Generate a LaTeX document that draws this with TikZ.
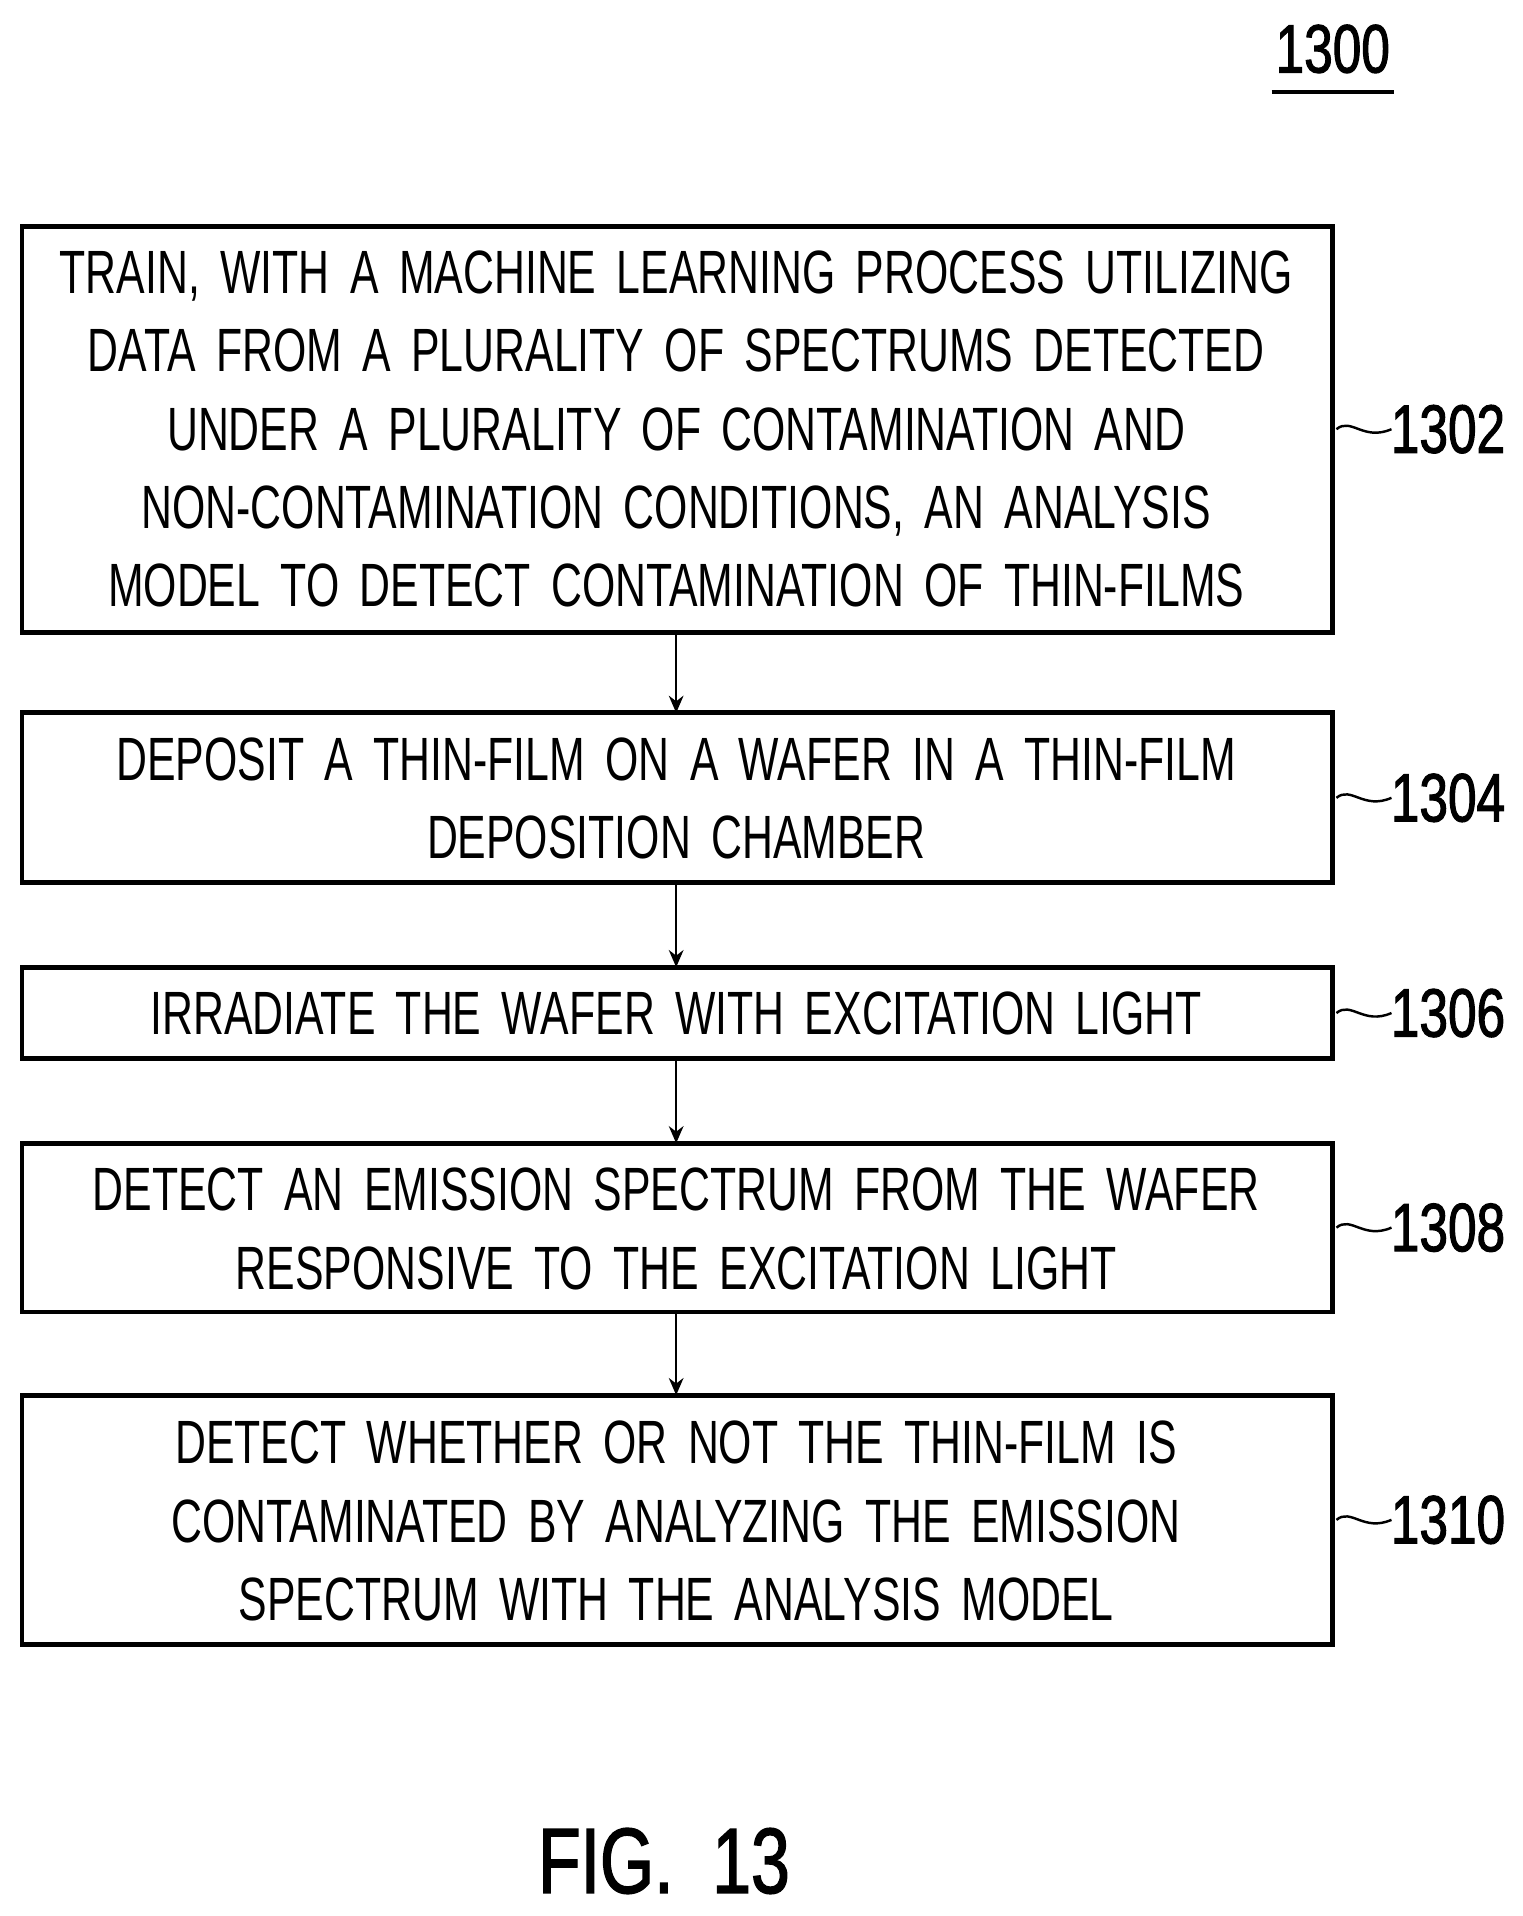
\documentclass[tikz,border=0pt]{standalone}
\usepackage{fontspec}
\usetikzlibrary{arrows.meta}
\setmainfont{Liberation Sans}
\newfontfamily\cond[FakeStretch=0.7,WordSpace=1.3]{Liberation Sans}
\newfontfamily\condb[FakeStretch=0.75,FakeBold=1.5]{Liberation Sans}
\begin{document}
\begin{tikzpicture}[x=1pt,y=-1pt,
 txt/.style={font=\cond\fontsize{50}{64}\selectfont,align=center,text width=1070pt},
 lab/.style={font=\condb\fontsize{56}{60}\selectfont,anchor=west},
 arr/.style={-{Stealth[length=14pt,width=12pt]},line width=2pt}]
\useasboundingbox (0,0) rectangle (1245,1567);
\foreach \n/\t/\b in {1302/185/517,1304/583/722,1306/791/866,1308/935/1073,1310/1141/1345}{
  \draw[line width=4pt] (18,\t) rectangle (1090,\b);
  \coordinate (b\n) at (553,\b);
  \coordinate (t\n) at (553,\t);
  \pgfmathsetmacro\m{(\t+\b)/2}
  \draw[line width=2pt] (1093,\m) .. controls (1105,\m-10) and (1115,\m+10) .. (1138,\m);
  \node[lab] (l\n) at (1134,\m) {\n};
}
\node[txt] (n1302) at (553,351) {TRAIN, WITH A MACHINE LEARNING PROCESS UTILIZING\\DATA FROM A PLURALITY OF SPECTRUMS DETECTED\\UNDER A PLURALITY OF CONTAMINATION AND\\NON-CONTAMINATION CONDITIONS, AN ANALYSIS\\MODEL TO DETECT CONTAMINATION OF THIN-FILMS};
\node[txt] (n1304) at (553,653) {DEPOSIT A THIN-FILM ON A WAFER IN A THIN-FILM\\DEPOSITION CHAMBER};
\node[txt] (n1306) at (553,829) {IRRADIATE THE WAFER WITH EXCITATION LIGHT};
\node[txt] (n1308) at (553,1005) {DETECT AN EMISSION SPECTRUM FROM THE WAFER\\RESPONSIVE TO THE EXCITATION LIGHT};
\node[txt] (n1310) at (553,1244) {DETECT WHETHER OR NOT THE THIN-FILM IS\\CONTAMINATED BY ANALYZING THE EMISSION\\SPECTRUM WITH THE ANALYSIS MODEL};
\draw[arr] (b1302) -- (t1304);
\draw[arr] (b1304) -- (t1306);
\draw[arr] (b1306) -- (t1308);
\draw[arr] (b1308) -- (t1310);
\node[font=\condb\fontsize{56}{60}\selectfont] (fig) at (1090,40) {1300};
\draw[line width=3pt] (1040,75) -- (1140,75);
\node[font=\condb\fontsize{76}{80}\selectfont] (f13) at (543,1522) {FIG.~~13};
\end{tikzpicture}
\end{document}
